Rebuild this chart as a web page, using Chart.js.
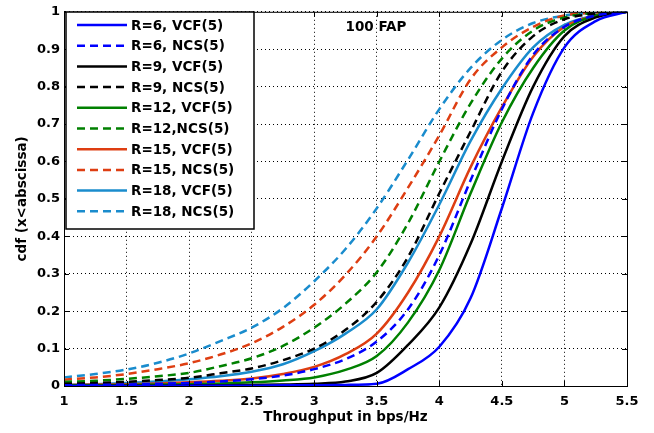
<!DOCTYPE html>
<html>
<head>
<meta charset="utf-8">
<script src="https://cdn.jsdelivr.net/npm/chart.js@4.4.1/dist/chart.umd.min.js"></script>
<style>
  html, body { margin: 0; padding: 0; background: #fff; }
  #wrap { width: 654px; height: 433px; }
</style>
</head>
<body>
<div id="wrap"><canvas id="cdfChart" width="654" height="433"></canvas></div>
<script>
// throughput grid (bps/Hz)
const xValues = [1, 1.25, 1.5, 1.75, 2, 2.25, 2.5, 2.75, 3, 3.25, 3.5, 3.75, 4, 4.25, 4.5, 4.75, 5, 5.25, 5.5];

// cdf values
const r6Vcf  = [0, 0, 0, 0, 0.001, 0.001, 0.001, 0.002, 0.002, 0.003, 0.006, 0.045, 0.105, 0.235, 0.475, 0.73, 0.905, 0.975, 1];
const r6Ncs  = [0.002, 0.003, 0.004, 0.006, 0.008, 0.012, 0.018, 0.028, 0.045, 0.072, 0.119, 0.205, 0.35, 0.55, 0.74, 0.885, 0.96, 0.99, 1];
const r9Vcf  = [0, 0, 0.001, 0.001, 0.002, 0.002, 0.003, 0.004, 0.006, 0.012, 0.035, 0.11, 0.21, 0.38, 0.6, 0.8, 0.935, 0.985, 1];
const r9Ncs  = [0.006, 0.008, 0.011, 0.016, 0.022, 0.034, 0.047, 0.069, 0.1, 0.15, 0.225, 0.345, 0.515, 0.68, 0.84, 0.935, 0.98, 0.995, 1];
const r12Vcf = [0.002, 0.002, 0.003, 0.004, 0.005, 0.007, 0.01, 0.015, 0.023, 0.043, 0.08, 0.17, 0.31, 0.515, 0.705, 0.85, 0.95, 0.99, 1];
const r12Ncs = [0.011, 0.014, 0.019, 0.026, 0.035, 0.053, 0.074, 0.107, 0.156, 0.22, 0.304, 0.435, 0.6, 0.755, 0.875, 0.95, 0.985, 0.997, 1];
const r15Vcf = [0.003, 0.004, 0.005, 0.007, 0.01, 0.014, 0.02, 0.032, 0.051, 0.085, 0.14, 0.25, 0.4, 0.585, 0.745, 0.88, 0.96, 0.99, 1];
const r15Ncs = [0.017, 0.023, 0.032, 0.045, 0.061, 0.084, 0.114, 0.158, 0.217, 0.297, 0.4, 0.53, 0.67, 0.82, 0.905, 0.96, 0.99, 0.998, 1];
const r18Vcf = [0.003, 0.005, 0.008, 0.012, 0.018, 0.026, 0.038, 0.058, 0.093, 0.14, 0.205, 0.33, 0.485, 0.655, 0.795, 0.905, 0.965, 0.99, 1];
const r18Ncs = [0.023, 0.032, 0.044, 0.062, 0.087, 0.12, 0.156, 0.208, 0.28, 0.366, 0.475, 0.605, 0.74, 0.85, 0.925, 0.97, 0.99, 0.998, 1];

const seriesLabels = ['R=6, VCF(5)', 'R=6, NCS(5)', 'R=9, VCF(5)', 'R=9, NCS(5)', 'R=12, VCF(5)',
  'R=12,NCS(5)', 'R=15, VCF(5)', 'R=15, NCS(5)', 'R=18, VCF(5)', 'R=18, NCS(5)'];
const seriesValues = [r6Vcf, r6Ncs, r9Vcf, r9Ncs, r12Vcf, r12Ncs, r15Vcf, r15Ncs, r18Vcf, r18Ncs];
const seriesColors = ['#0000ff', '#0000ff', '#000000', '#000000', '#008000', '#008000',
  '#de3e12', '#de3e12', '#1a8ccd', '#1a8ccd'];

const xTicks = [1, 1.5, 2, 2.5, 3, 3.5, 4, 4.5, 5, 5.5];
const yTicks = [0, 0.1, 0.2, 0.3, 0.4, 0.5, 0.6, 0.7, 0.8, 0.9, 1];
const annotationText = '100 FAP';

const FONT = 'DejaVu Sans';
const DASH = [8, 5];

const datasets = seriesValues.map((vals, i) => ({
  label: seriesLabels[i],
  data: vals.map((y, k) => ({ x: xValues[k], y })),
  borderColor: seriesColors[i],
  backgroundColor: seriesColors[i],
  borderWidth: 2.5,
  borderDash: i % 2 === 1 ? DASH : [],
  pointRadius: 0,
  fill: false,
  cubicInterpolationMode: 'monotone'
}));

// frame, inward ticks, text label and boxed legend, matlab style
const decorations = {
  id: 'decorations',
  afterDatasetsDraw(chart) {
    const { ctx, chartArea: a, scales: { x, y } } = chart;
    ctx.save();
    ctx.strokeStyle = '#000';
    ctx.lineWidth = 1;
    ctx.setLineDash([]);
    ctx.strokeRect(a.left + 0.5, a.top + 0.5, a.right - a.left, a.bottom - a.top);

    ctx.beginPath();
    xTicks.forEach((v) => {
      const px = Math.round(x.getPixelForValue(v)) + 0.5;
      ctx.moveTo(px, a.bottom); ctx.lineTo(px, a.bottom - 5);
      ctx.moveTo(px, a.top); ctx.lineTo(px, a.top + 5);
    });
    yTicks.forEach((v) => {
      const py = Math.round(y.getPixelForValue(v)) + 0.5;
      ctx.moveTo(a.left, py); ctx.lineTo(a.left + 5, py);
      ctx.moveTo(a.right, py); ctx.lineTo(a.right - 5, py);
    });
    ctx.stroke();

    ctx.fillStyle = '#000';
    ctx.font = `bold 13.5px "${FONT}"`;
    ctx.textBaseline = 'middle';
    ctx.textAlign = 'left';
    ctx.fillText(annotationText, x.getPixelForValue(3.25), 27);

    // legend box
    const box = { left: 66, top: 12, right: 254, bottom: 229 };
    ctx.fillStyle = '#fff';
    ctx.fillRect(box.left, box.top, box.right - box.left, box.bottom - box.top);
    ctx.lineWidth = 1.5;
    ctx.strokeRect(box.left, box.top, box.right - box.left, box.bottom - box.top);
    chart.data.datasets.forEach((ds, i) => {
      const cy = 25 + i * 20.7;
      ctx.beginPath();
      ctx.strokeStyle = ds.borderColor;
      ctx.lineWidth = 2.5;
      ctx.setLineDash(ds.borderDash);
      ctx.moveTo(77, cy);
      ctx.lineTo(127, cy);
      ctx.stroke();
      ctx.setLineDash([]);
      ctx.fillStyle = '#000';
      ctx.fillText(ds.label, 131, cy + 1);
    });
    ctx.restore();
  }
};

new Chart(document.getElementById('cdfChart'), {
  type: 'line',
  data: { datasets },
  options: {
    responsive: false,
    animation: false,
    events: [],
    layout: { padding: { top: 10, right: 27, left: 0, bottom: 0 } },
    plugins: { legend: { display: false }, tooltip: { enabled: false } },
    scales: {
      x: {
        type: 'linear',
        min: 1,
        max: 5.5,
        afterFit: (s) => { s.height = 47; },
        afterBuildTicks: (s) => { s.ticks = xTicks.map((v) => ({ value: v })); },
        ticks: {
          autoSkip: false,
          maxRotation: 0,
          padding: 8,
          color: '#000',
          font: { family: FONT, size: 13, weight: 'bold' },
          callback: (v) => String(v)
        },
        grid: { color: '#000', lineWidth: 1, drawTicks: false },
        border: { display: true, width: 1, color: '#000', dash: [1, 3] },
        title: {
          display: true,
          text: 'Throughput in bps/Hz',
          color: '#000',
          font: { family: FONT, size: 13.5, weight: 'bold' },
          padding: { top: 2, bottom: 7 }
        }
      },
      y: {
        min: 0,
        max: 1,
        afterFit: (s) => { s.width = 64; },
        afterBuildTicks: (s) => { s.ticks = yTicks.map((v) => ({ value: v })); },
        ticks: {
          autoSkip: false,
          padding: 4,
          color: '#000',
          font: { family: FONT, size: 13, weight: 'bold' },
          callback: (v) => String(Number(v.toFixed(1)))
        },
        grid: { color: '#000', lineWidth: 1, drawTicks: false },
        border: { display: true, width: 1, color: '#000', dash: [1, 3] },
        title: {
          display: true,
          text: 'cdf (x<abscissa)',
          color: '#000',
          font: { family: FONT, size: 13.5, weight: 'bold' },
          padding: { top: 14, bottom: 2 }
        }
      }
    }
  },
  plugins: [decorations]
});
</script>
</body>
</html>
